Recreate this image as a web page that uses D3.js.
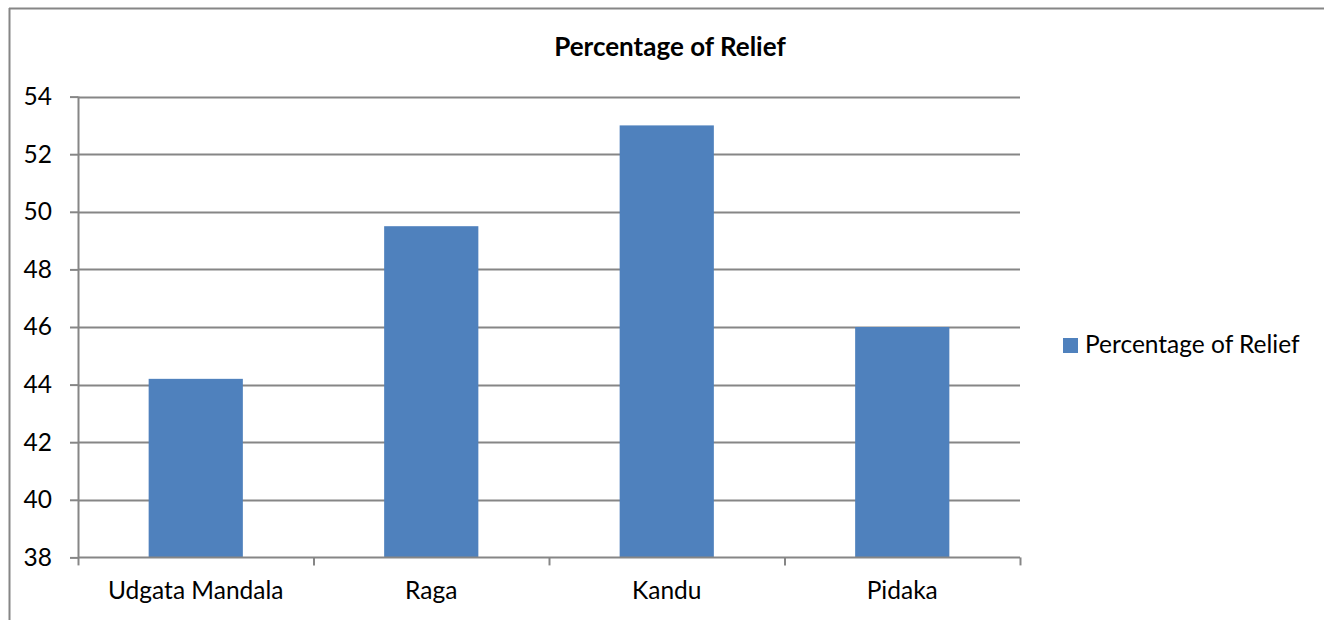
<!DOCTYPE html>
<html>
<head>
<meta charset="utf-8">
<script src="https://cdn.jsdelivr.net/npm/d3@7"></script>
<style>
html,body{margin:0;padding:0;background:#fff;}
svg{display:block;}
text{font-family:Lato,"Open Sans",sans-serif;fill:#000;}
</style>
</head>
<body>
<svg id="chart" width="1324" height="620"></svg>
<script>
const categories = ["Udgata Mandala", "Raga", "Kandu", "Pidaka"];
const values = [44.2, 49.5, 53, 46];
const yTicks = [38, 40, 42, 44, 46, 48, 50, 52, 54];
const seriesName = "Percentage of Relief";
const chartTitle = "Percentage of Relief";

const svg = d3.select("#chart");
const W = 1324, H = 620;
const mLeft = 78, mRight = 1020, mTop = 96.6, mBottom = 557.4;
const labelSize = "24.5px";

// chart border (top and left visible)
svg.append("line").attr("x1", 9).attr("x2", W).attr("y1", 8.5).attr("y2", 8.5)
  .attr("stroke", "#868686").attr("stroke-width", 2);
svg.append("line").attr("x1", 9.5).attr("x2", 9.5).attr("y1", 8).attr("y2", H)
  .attr("stroke", "#868686").attr("stroke-width", 2);

const x = d3.scaleBand().domain(categories).range([mLeft, mRight]).padding(0);
const y = d3.scaleLinear().domain([38, 54]).range([mBottom, mTop]);

// gridlines
svg.append("g").selectAll("line").data(yTicks.filter(t => t !== 38)).join("line")
  .attr("x1", mLeft).attr("x2", mRight)
  .attr("y1", d => Math.round(y(d)) + 0.5).attr("y2", d => Math.round(y(d)) + 0.5)
  .attr("stroke", "#868686").attr("stroke-width", 2);

// y axis
const yAxis = d3.axisLeft(y).tickValues(yTicks).tickSize(8).tickPadding(18).tickFormat(d3.format("d"));
const gy = svg.append("g").attr("transform", `translate(${mLeft},0)`).call(yAxis);
gy.select(".domain").attr("stroke", "#868686").attr("stroke-width", 2).attr("d", `M0.5,${mTop}V${mBottom}`);
gy.selectAll(".tick line").attr("stroke", "#868686").attr("stroke-width", 2);
gy.selectAll(".tick text").style("font-family", "Lato").style("font-size", labelSize).attr("fill", "#000");

// bars
const barW = x.bandwidth() * 0.4;
svg.append("g").selectAll("rect").data(values).join("rect")
  .attr("x", (d, i) => x(categories[i]) + (x.bandwidth() - barW) / 2)
  .attr("width", barW)
  .attr("y", d => y(d))
  .attr("height", d => y(38) - y(d))
  .attr("fill", "#4F81BD");

// x axis
const gx = svg.append("g").attr("transform", `translate(0,${mBottom})`);
gx.append("line").attr("x1", mLeft).attr("x2", mRight).attr("y1", 0).attr("y2", 0)
  .attr("stroke", "#868686").attr("stroke-width", 2);
const bounds = categories.map(c => x(c)).concat([mRight]);
gx.selectAll("line.tk").data(bounds).join("line").attr("class", "tk")
  .attr("x1", d => d + 0.5).attr("x2", d => d + 0.5).attr("y1", 0).attr("y2", 8)
  .attr("stroke", "#868686").attr("stroke-width", 2);
gx.selectAll("text").data(categories).join("text")
  .attr("x", d => x(d) + x.bandwidth() / 2)
  .attr("y", 42)
  .attr("text-anchor", "middle")
  .style("font-size", labelSize)
  .text(d => d);

// title
svg.append("text").attr("x", 670).attr("y", 56).attr("text-anchor", "middle")
  .style("font-size", "26px").style("font-weight", "bold").text(chartTitle);

// legend
const lg = svg.append("g").attr("transform", "translate(1063,338)");
lg.append("rect").attr("width", 15).attr("height", 15).attr("fill", "#4F81BD");
lg.append("text").attr("x", 22).attr("y", 15).style("font-size", labelSize).text(seriesName);
</script>
</body>
</html>
